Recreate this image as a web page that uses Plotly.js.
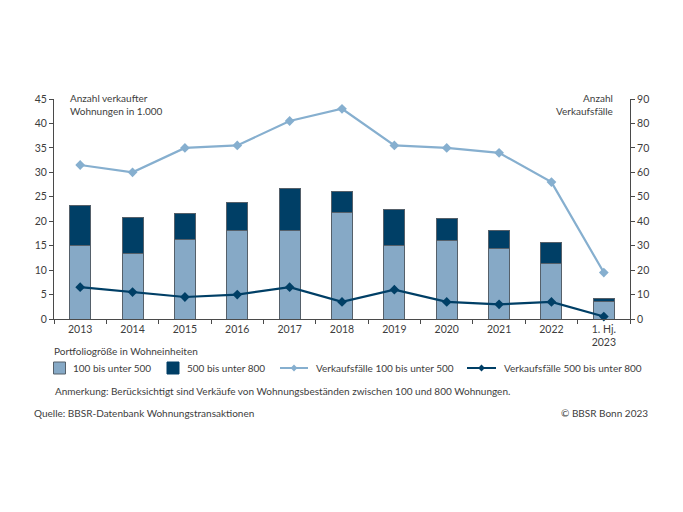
<!DOCTYPE html>
<html><head><meta charset="utf-8">
<script src="https://cdn.plot.ly/plotly-3.0.1.min.js"></script>
<style>html,body{margin:0;padding:0;background:#fff}</style></head>
<body><div id="chart" style="width:683px;height:512px"></div>
<script>
const categories = ["2013","2014","2015","2016","2017","2018","2019","2020","2021","2022","1. Hj.<br>2023"];
const wohnungen100bis500 = [15.1,13.4,16.2,18.2,18.2,21.8,15.1,16.0,14.5,11.3,3.6];
const wohnungen500bis800 = [8.2,7.4,5.4,5.6,8.4,4.3,7.3,4.5,3.6,4.3,0.6];
const faelle100bis500 = [63,60,70,71,81,86,71,70,68,56,19];
const faelle500bis800 = [13,11,9,10,13,7,12,7,6,7,1];
const leftTicks = [0,5,10,15,20,25,30,35,40,45];
const rightTicks = [0,10,20,30,40,50,60,70,80,90];

const W=683,H=512,L=54,R=630,T=99,B=319;
const FONT='Lato, sans-serif', FS=10, TICKFS=10.5, TXT='#3d3d3d', LIGHT='#86a9c6', DARK='#003f66', LINE_L='#86afcf', EDGE='#55606a';
const px=x=>(x-L)/(R-L), py=y=>(B-y)/(B-T);
function label(text,x,y,anchor){return {text,x:px(x),y:py(y),xref:'paper',yref:'paper',xanchor:anchor||'left',yanchor:'middle',align:anchor||'left',showarrow:false,borderpad:0,font:{family:FONT,size:FS,color:TXT}};}
function swatch(x,y,c,edge){return {type:'rect',xref:'paper',yref:'paper',x0:px(x),x1:px(x+12),y0:py(y+6),y1:py(y-6),fillcolor:c,line:{color:edge,width:1}};}
function keyLine(x0,x1,y,c){return {type:'line',xref:'paper',yref:'paper',x0:px(x0),x1:px(x1),y0:py(y),y1:py(y),line:{color:c,width:2}};}
function keyMark(x,y,c){const r=3.4;return {type:'path',xref:'paper',yref:'paper',fillcolor:c,line:{color:c,width:0},
  path:`M ${px(x-r)} ${py(y)} L ${px(x)} ${py(y-r)} L ${px(x+r)} ${py(y)} L ${px(x)} ${py(y+r)} Z`};}

const data=[
 {type:'bar',name:'100 bis unter 500',x:categories,y:wohnungen100bis500,width:0.4,marker:{color:LIGHT,line:{color:EDGE,width:1}}},
 {type:'bar',name:'500 bis unter 800',x:categories,y:wohnungen500bis800,width:0.4,marker:{color:DARK,line:{color:EDGE,width:1}}},
 {type:'scatter',mode:'lines+markers',name:'Verkaufsfälle 100 bis unter 500',x:categories,y:faelle100bis500,yaxis:'y2',line:{color:LINE_L,width:2.2},marker:{symbol:'diamond',size:7.5,color:LINE_L},cliponaxis:false},
 {type:'scatter',mode:'lines+markers',name:'Verkaufsfälle 500 bis unter 800',x:categories,y:faelle500bis800,yaxis:'y2',line:{color:DARK,width:2.2},marker:{symbol:'diamond',size:7.5,color:DARK},cliponaxis:false}
];
const axisCommon={showgrid:false,zeroline:false,showline:true,linecolor:'#4a4a4a',linewidth:1,ticks:'outside',ticklen:4,tickwidth:1,tickcolor:'#4a4a4a',tickfont:{family:FONT,size:TICKFS,color:TXT}};
const layout={
 width:W,height:H,margin:{l:L,r:W-R,t:T,b:H-B,pad:0},paper_bgcolor:'#fff',plot_bgcolor:'#fff',
 barmode:'stack',showlegend:false,
 font:{family:FONT,size:FS,color:TXT},
 xaxis:Object.assign({},axisCommon,{type:'category',categoryorder:'array',categoryarray:categories,tickson:'boundaries',range:[-0.5,10.5],tickangle:0}),
 yaxis:Object.assign({},axisCommon,{range:[0,45],tickmode:'array',tickvals:leftTicks,ticktext:leftTicks.map(String)}),
 yaxis2:Object.assign({},axisCommon,{range:[0,90],overlaying:'y',side:'right',tickmode:'array',tickvals:rightTicks,ticktext:rightTicks.map(String)}),
 shapes:[
  swatch(53.5,368,LIGHT,EDGE),swatch(167,368,DARK,DARK),
  keyLine(280,308,368,LINE_L),keyMark(294,368,LINE_L),
  keyLine(467,496,368,DARK),keyMark(481.5,368,DARK)
 ],
 annotations:[
  label('Anzahl verkaufter<br>Wohnungen in 1.000',69,104.5),
  label('Anzahl<br>Verkaufsfälle',613.5,104.5,'right'),
  label('Portfoliogröße in Wohneinheiten',53,351),
  label('100 bis unter 500',72,368),
  label('500 bis unter 800',186,368),
  label('Verkaufsfälle 100 bis unter 500',315,368),
  label('Verkaufsfälle 500 bis unter 800',503,368),
  label('Anmerkung: Berücksichtigt sind Verkäufe von Wohnungsbeständen zwischen 100 und 800 Wohnungen.',54,391),
  label('Quelle: BBSR-Datenbank Wohnungstransaktionen',33,413),
  label('© BBSR Bonn 2023',649,413,'right')
 ]
};
Plotly.newPlot('chart',data,layout,{displayModeBar:false,staticPlot:true});
</script></body></html>
